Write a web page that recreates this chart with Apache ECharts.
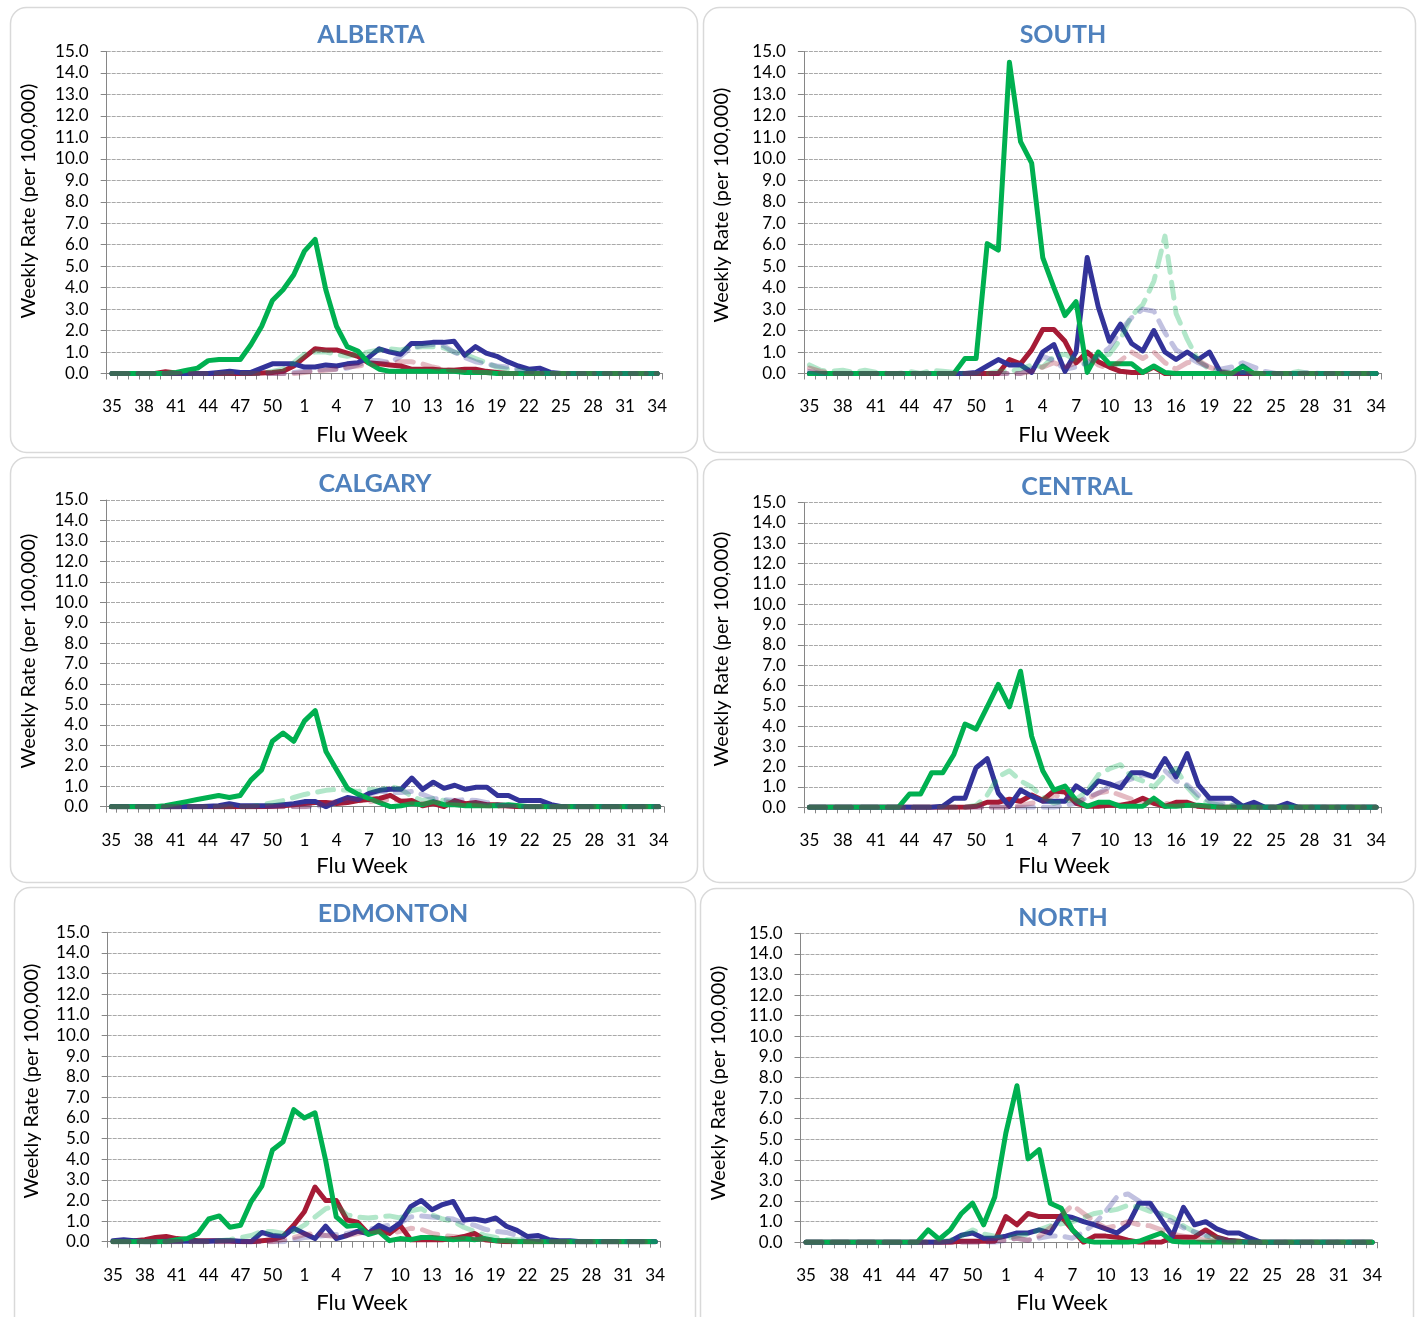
<!DOCTYPE html>
<html>
<head>
<meta charset="utf-8">
<title>Weekly influenza rates by zone</title>
<script src="https://cdn.jsdelivr.net/npm/echarts@6/dist/echarts.min.js"></script>
<style>
  html, body { margin: 0; padding: 0; background: #ffffff; }
  #chart { width: 1420px; height: 1317px; }
</style>
</head>
<body>
<div id="chart"></div>
<script>
// Flu weeks 35..52 then 1..34
const weeks = ['35','36','37','38','39','40','41','42','43','44','45','46','47','48','49','50','51','52',
  '1','2','3','4','5','6','7','8','9','10','11','12','13','14','15','16','17','18','19','20','21','22',
  '23','24','25','26','27','28','29','30','31','32','33','34'];

const yTicks = [0, 15, 1];   // min, max, step of the rate axis

// ---------- ALBERTA ----------
const albertaGreen = [0,0,0,0,0,0,0.05,0.15,0.25,0.6,0.65,0.65,0.65,1.35,2.2,3.4,3.9,4.6,
  5.7,6.25,3.9,2.2,1.25,1.05,0.5,0.2,0.1,0.1,0.1,0.1,0.1,0.1,0.1,0.05,0.05,0.05,0,0,0,0,0,0,0,0,0,0,0,0,0,0,0,0];
const albertaBlue = [0,0,0,0,0,0,0,0,0,0,0.05,0.1,0.05,0.05,0.25,0.45,0.45,0.45,
  0.3,0.3,0.4,0.35,0.45,0.5,0.75,1.15,1.0,0.9,1.4,1.4,1.45,1.45,1.5,0.85,1.25,0.95,0.8,0.55,0.35,0.2,0.25,0.05,0,0,0,0,0,0,0,0,0,0];
const albertaRed = [0,0,0,0,0,0.08,0.02,0,0,0,0,0,0,0,0.02,0.05,0.1,0.35,
  0.75,1.15,1.1,1.1,0.95,0.8,0.5,0.45,0.4,0.35,0.2,0.2,0.2,0.15,0.15,0.2,0.2,0.1,0.05,0,0,0,0,0,0,0,0,0,0,0,0,0,0,0];
const albertaGreenPrev = [0,0,0,0,0,0,0,0,0,0,0,0,0,0,0,0.1,0.2,0.5,
  0.9,1.0,1.0,0.9,0.8,0.9,1.0,1.1,1.15,1.1,1.2,1.25,1.25,1.2,1.0,0.9,0.7,0.5,0.3,0.2,0.15,0.1,0.05,0,0,0,0,0,0,0,0,0,0,0];
const albertaBluePrev = [0,0,0,0,0,0,0,0,0,0,0,0,0,0,0,0,0,0.05,
  0.1,0.15,0.2,0.2,0.25,0.4,0.6,0.6,0.5,0.8,1.2,1.3,1.35,1.3,1.0,0.75,0.55,0.45,0.35,0.3,0.2,0.1,0.05,0,0,0,0,0,0,0,0,0,0,0];
const albertaRedPrev = [0,0,0,0,0,0,0,0,0,0,0,0,0,0,0,0,0,0,
  0.05,0.1,0.15,0.2,0.3,0.35,0.4,0.45,0.5,0.55,0.55,0.45,0.3,0.2,0.15,0.15,0.1,0.05,0,0,0,0,0,0,0,0,0,0,0,0,0,0,0,0];

// ---------- SOUTH ----------
const southGreen = [0,0,0,0,0,0,0,0,0,0,0,0,0,0,0.7,0.7,6.05,5.75,
  14.5,10.8,9.8,5.4,4.0,2.7,3.35,0.05,1.0,0.45,0.45,0.45,0.05,0.35,0.05,0,0,0,0,0,0,0.35,0,0,0,0,0,0,0,0,0,0,0,0];
const southBlue = [0,0,0,0,0,0,0,0,0,0,0,0,0,0,0,0.05,0.35,0.65,
  0.4,0.4,0.05,1.0,1.35,0.1,1.0,5.4,3.1,1.5,2.3,1.4,1.05,2.0,1.0,0.65,1.0,0.65,1.0,0.05,0,0.05,0,0,0,0,0,0,0,0,0,0,0,0];
const southRed = [0,0,0,0,0,0,0,0,0,0,0,0,0,0,0,0,0,0,
  0.65,0.45,1.1,2.05,2.05,1.5,0.5,1.0,0.55,0.3,0.1,0.05,0.05,0.3,0,0,0,0,0,0,0,0,0,0,0,0,0,0,0,0,0,0,0,0];
const southGreenPrev = [0.4,0.15,0.1,0.15,0.05,0.15,0.05,0,0,0.1,0,0.15,0.1,0.05,0,0,0,0.1,
  0.1,0.2,0.4,0.3,0.8,0.9,0.6,0.4,0.8,0.9,1.6,2.7,3.2,4.3,6.4,2.8,1.6,0.6,0.2,0.1,0.05,0.1,0.05,0,0,0,0.1,0,0,0,0,0,0,0];
const southBluePrev = [0.1,0,0,0,0,0,0,0,0,0,0,0,0,0,0,0,0,0,
  0,0,0.2,0.8,0.6,0.2,0.3,0.5,0.8,1.2,2.0,2.6,3.0,2.9,1.9,1.1,0.8,0.5,0.3,0.2,0.3,0.5,0.3,0.1,0,0,0,0.05,0,0,0,0,0,0];
const southRedPrev = [0.25,0.1,0,0,0,0,0,0,0,0,0,0,0,0,0,0,0,0,
  0,0,0.1,0.3,0.5,0.3,0.5,0.8,0.4,0.2,0.6,1.0,0.7,1.0,0.5,0.2,0.5,0.6,0.3,0.1,0,0,0,0,0,0,0,0,0,0,0,0,0,0];

// ---------- CALGARY ----------
const calgaryGreen = [0,0,0,0,0,0.05,0.15,0.25,0.35,0.45,0.55,0.45,0.55,1.3,1.8,3.2,3.6,3.2,
  4.2,4.7,2.7,1.8,0.9,0.6,0.4,0.2,0,0.05,0.15,0.1,0.25,0.1,0.1,0.05,0.05,0.05,0.05,0.1,0.05,0,0,0,0,0,0,0,0,0,0,0,0,0];
const calgaryBlue = [0,0,0,0,0,0,0,0,0,0.02,0.05,0.15,0.05,0.05,0.05,0.05,0.1,0.15,
  0.25,0.25,0,0.25,0.45,0.35,0.65,0.8,0.85,0.85,1.4,0.85,1.2,0.9,1.05,0.85,0.95,0.95,0.55,0.55,0.3,0.3,0.3,0.1,0,0,0,0,0,0,0,0,0,0];
const calgaryRed = [0,0,0,0,0,0,0,0,0,0,0,0,0,0,0,0.02,0.05,0.1,
  0.15,0.2,0.2,0.15,0.2,0.3,0.35,0.4,0.55,0.25,0.3,0.05,0.15,0,0.3,0.15,0.2,0.1,0.1,0.05,0,0,0,0,0,0,0,0,0,0,0,0,0,0];
const calgaryGreenPrev = [0,0,0,0,0,0,0,0,0,0,0,0,0,0,0.1,0.2,0.3,0.45,
  0.6,0.7,0.8,0.85,0.8,0.75,0.85,0.8,1.0,0.85,0.5,0.3,0.4,0.3,0.2,0.1,0.15,0.05,0.1,0.05,0,0,0,0,0,0,0,0,0,0,0,0,0,0];
const calgaryBluePrev = [0,0,0,0,0,0,0,0,0,0,0,0,0,0,0,0,0,0,
  0,0,0.1,0.2,0.3,0.4,0.6,0.75,0.7,0.7,0.75,0.6,0.4,0.35,0.3,0.35,0.3,0.2,0.1,0.05,0,0,0,0,0,0,0,0,0,0,0,0,0,0];
const calgaryRedPrev = [0,0,0,0,0,0,0,0,0,0,0,0,0,0,0,0,0,0,
  0,0.1,0.15,0.25,0.35,0.3,0.25,0.3,0.35,0.3,0.2,0.15,0.2,0.25,0.15,0.1,0.1,0.05,0,0,0,0,0,0,0,0,0,0,0,0,0,0,0,0];

// ---------- CENTRAL ----------
const centralGreen = [0,0,0,0,0,0,0,0,0,0.65,0.65,1.7,1.7,2.6,4.1,3.85,4.95,6.05,
  4.95,6.7,3.5,1.8,0.85,1.05,0.35,0.05,0.25,0.25,0.05,0.05,0.05,0.45,0.05,0.05,0.1,0.1,0.05,0,0,0,0,0,0,0,0,0,0,0,0,0,0,0];
const centralBlue = [0,0,0,0,0,0,0,0,0,0,0,0,0.05,0.45,0.45,1.95,2.4,0.7,
  0.05,0.85,0.55,0.3,0.3,0.3,1.05,0.7,1.3,1.15,0.95,1.7,1.7,1.5,2.4,1.5,2.65,1.1,0.45,0.45,0.45,0.05,0.25,0,0,0.2,0,0,0,0,0,0,0,0];
const centralRed = [0,0,0,0,0,0,0,0,0,0,0,0,0,0,0,0.05,0.25,0.25,
  0.4,0.3,0.6,0.35,0.8,0.75,0.2,0.05,0.05,0.1,0.1,0.2,0.45,0.2,0.05,0.25,0.25,0.05,0,0,0,0,0,0,0,0,0,0,0,0,0,0,0,0];
const centralGreenPrev = [0,0,0,0,0,0,0,0,0,0,0,0,0,0,0,0.1,0.6,1.5,
  1.8,1.3,1.0,0.5,0.2,0.3,0.4,0.8,1.6,1.9,2.1,1.5,1.3,1.0,1.6,1.9,1.0,0.4,0.2,0.1,0.1,0.05,0,0,0,0,0,0,0,0,0,0,0,0];
const centralBluePrev = [0,0,0,0,0,0,0,0,0,0,0,0,0,0,0,0,0,0,
  0,0,0,0,0,0.1,0.2,0.5,0.7,1.0,1.2,1.4,1.6,1.5,1.8,1.3,1.1,0.6,0.3,0.2,0.1,0.05,0,0,0,0,0,0,0,0,0,0,0,0];
const centralRedPrev = [0,0,0,0,0,0,0,0,0,0,0,0,0,0,0,0,0,0,
  0,0.1,0.2,0.3,0.6,0.5,0.3,0.4,0.7,0.8,0.6,0.4,0.3,0.2,0.2,0.1,0.1,0.05,0,0,0,0,0,0,0,0,0,0,0,0,0,0,0,0];

// ---------- EDMONTON ----------
const edmontonGreen = [0,0,0,0,0,0,0.1,0.15,0.4,1.1,1.25,0.7,0.8,1.95,2.7,4.45,4.85,6.4,
  6.0,6.25,3.95,1.2,0.75,0.8,0.35,0.5,0.05,0.15,0.1,0.2,0.2,0.15,0.1,0.15,0.1,0.15,0.05,0.05,0,0,0,0,0,0,0,0,0,0,0,0,0,0];
const edmontonBlue = [0.05,0.1,0.05,0,0,0.02,0.02,0.02,0.02,0.02,0.05,0.05,0.02,0,0.45,0.3,0.25,0.65,
  0.4,0.15,0.75,0.15,0.3,0.5,0.4,0.8,0.55,0.9,1.7,2.0,1.55,1.8,1.95,1.05,1.1,1.0,1.15,0.75,0.55,0.25,0.3,0.1,0.05,0.05,0,0,0,0,0,0,0,0];
const edmontonRed = [0,0.02,0.05,0.1,0.2,0.25,0.15,0.1,0.05,0.05,0.05,0.05,0,0,0.05,0.1,0.25,0.8,
  1.45,2.65,2.0,2.0,1.05,0.95,0.4,0.55,0.4,0.8,0.1,0.1,0.1,0.1,0.15,0.25,0.4,0.1,0.05,0,0,0,0,0,0,0,0,0,0,0,0,0,0,0];
const edmontonGreenPrev = [0,0,0,0,0,0,0,0,0,0,0.05,0.1,0.2,0.3,0.5,0.5,0.4,0.5,
  0.8,1.2,1.6,1.75,1.3,1.2,1.15,1.2,1.25,1.15,1.5,1.6,1.3,1.1,1.0,0.7,0.5,0.3,0.2,0.1,0.1,0.05,0,0,0,0,0,0,0,0,0,0,0,0];
const edmontonBluePrev = [0,0,0,0,0,0,0,0,0,0,0,0,0,0,0,0,0,0.1,
  0.2,0.25,0.3,0.35,0.4,0.5,0.6,0.7,0.8,0.9,1.2,1.25,1.2,1.15,1.1,0.9,0.8,0.6,0.5,0.45,0.3,0.2,0.1,0.05,0,0,0,0,0,0,0,0,0,0];
const edmontonRedPrev = [0,0,0,0,0,0,0,0,0,0,0,0,0,0,0,0,0.1,0.2,
  0.35,0.4,0.3,0.25,0.3,0.4,0.5,0.5,0.4,0.5,0.65,0.6,0.4,0.3,0.25,0.2,0.15,0.1,0.05,0,0,0,0,0,0,0,0,0,0,0,0,0,0,0];

// ---------- NORTH ----------
const northGreen = [0,0,0,0,0,0,0,0,0,0,0,0.6,0.15,0.6,1.4,1.9,0.85,2.2,
  5.3,7.6,4.05,4.5,1.9,1.65,0.6,0.1,0,0,0,0,0.05,0.25,0.45,0.05,0,0,0,0,0,0,0,0,0,0,0,0,0,0,0,0,0,0];
const northBlue = [0,0,0,0,0,0,0,0,0,0,0,0,0,0.05,0.35,0.45,0.2,0.2,
  0.3,0.45,0.45,0.6,0.45,1.3,1.2,1.0,0.85,0.65,0.45,0.85,1.9,1.9,1.1,0.3,1.7,0.85,1.0,0.65,0.45,0.45,0.2,0,0,0,0,0,0,0,0,0,0,0];
const northRed = [0,0,0,0,0,0,0,0,0,0,0,0,0,0,0.05,0.05,0.05,0.05,
  1.25,0.85,1.4,1.25,1.25,1.25,0.6,0,0.3,0.3,0.25,0.1,0,0,0,0.25,0.25,0.25,0.6,0.25,0.1,0.05,0,0,0,0,0,0,0,0,0,0,0,0];
const northGreenPrev = [0,0,0,0,0,0,0,0,0,0,0,0,0,0.1,0.3,0.6,0.4,0.3,
  0.2,0.3,0.4,0.6,0.8,0.9,1.0,1.2,1.4,1.5,1.6,1.8,1.7,1.5,1.4,1.2,0.8,0.5,0.3,0.2,0.1,0.05,0,0,0,0,0,0,0,0,0,0,0,0];
const northBluePrev = [0,0,0,0,0,0,0,0,0,0,0,0,0,0,0,0,0,0,
  0.1,0.2,0.1,0.2,0.3,0.3,0.2,0.5,0.9,1.5,2.2,2.35,2.0,1.7,1.3,1.0,0.7,0.5,0.35,0.2,0.1,0.05,0,0,0,0,0,0,0,0,0,0,0,0];
const northRedPrev = [0,0,0,0,0,0,0,0,0,0,0,0,0,0,0,0,0,0.1,
  0.1,0.2,0.1,0.3,0.7,1.3,1.8,1.4,1.0,0.7,0.8,1.0,0.85,0.8,0.6,0.4,0.3,0.2,0.1,0.05,0,0,0,0,0,0,0,0,0,0,0,0,0,0];

// ---------- styling / layout ----------
const FONT = 'Lato, "Open Sans", sans-serif';
const C_GREEN = '#00b050', C_BLUE = '#333399', C_RED = '#a61b36';
const C_GREEN_L = 'rgba(0,176,80,0.30)', C_BLUE_L = 'rgba(51,51,153,0.30)', C_RED_L = 'rgba(166,27,54,0.30)';
const AXIS_GREY = '#868686';

// box: [x, y, w, h]; plot: [left, top, width, height]
const panels = [
  { name: 'ALBERTA',  box: [10, 7, 687, 445],    plot: [106.7, 51.5, 555.8, 322],  title: [371, 35],   yName: [29, 201],   xName: [362, 435],
    lines: [albertaRed, albertaBlue, albertaGreen, albertaGreenPrev, albertaBluePrev, albertaRedPrev] },
  { name: 'SOUTH',    box: [703, 7, 712, 445],   plot: [803.9, 51.5, 577.7, 322], title: [1063, 35],  yName: [722, 205],  xName: [1064, 435],
    lines: [southRed, southBlue, southGreen, southGreenPrev, southBluePrev, southRedPrev] },
  { name: 'CALGARY',  box: [10, 457, 687, 425],  plot: [106, 500, 558, 306.7],     title: [375, 484],  yName: [29, 651],   xName: [362, 866],
    lines: [calgaryRed, calgaryBlue, calgaryGreen, calgaryGreenPrev, calgaryBluePrev, calgaryRedPrev] },
  { name: 'CENTRAL',  box: [703, 459, 712, 423], plot: [803.9, 502.7, 577.7, 304.6], title: [1077, 487], yName: [722, 649], xName: [1064, 866],
    lines: [centralRed, centralBlue, centralGreen, centralGreenPrev, centralBluePrev, centralRedPrev] },
  { name: 'EDMONTON', box: [14, 887, 681, 450],  plot: [107.7, 932.3, 552.8, 309.4], title: [393, 914], yName: [32, 1081],  xName: [362, 1303],
    lines: [edmontonRed, edmontonBlue, edmontonGreen, edmontonGreenPrev, edmontonBluePrev, edmontonRedPrev] },
  { name: 'NORTH',    box: [700, 888, 713, 450], plot: [800.5, 933.3, 577.2, 309], title: [1063, 918], yName: [719, 1083],  xName: [1062, 1303],
    lines: [northRed, northBlue, northGreen, northGreenPrev, northBluePrev, northRedPrev] }
];

const lineLooks = [
  { color: C_RED,     dashed: false },
  { color: C_BLUE,    dashed: false },
  { color: C_GREEN,   dashed: false },
  { color: C_GREEN_L, dashed: true },
  { color: C_BLUE_L,  dashed: true },
  { color: C_RED_L,   dashed: true }
];
const lineNames = ['Red', 'Blue', 'Green', 'Green (dashed)', 'Blue (dashed)', 'Red (dashed)'];

const grids = [], xAxes = [], yAxes = [], series = [], graphics = [];

panels.forEach((p, k) => {
  graphics.push({
    type: 'rect', z: -10, silent: true,
    shape: { x: p.box[0] + 0.5, y: p.box[1] + 0.5, width: p.box[2], height: p.box[3], r: 16 },
    style: { fill: '#ffffff', stroke: '#d9d9d9', lineWidth: 1.5 }
  });
  graphics.push({
    type: 'text', x: p.title[0], y: p.title[1], silent: true,
    style: { text: p.name, fill: '#4f81bd', fontFamily: FONT, fontWeight: 'bold', fontSize: 25, align: 'center', verticalAlign: 'middle' }
  });
  graphics.push({
    type: 'text', x: p.yName[0], y: p.yName[1], rotation: Math.PI / 2, silent: true,
    style: { text: 'Weekly Rate (per 100,000)', fill: '#000000', fontFamily: FONT, fontSize: 20, align: 'center', verticalAlign: 'middle' }
  });
  graphics.push({
    type: 'text', x: p.xName[0], y: p.xName[1], silent: true,
    style: { text: 'Flu Week', fill: '#000000', fontFamily: FONT, fontSize: 22, align: 'center', verticalAlign: 'middle' }
  });

  grids.push({ left: p.plot[0], top: p.plot[1], width: p.plot[2], height: p.plot[3], containLabel: false, outerBoundsMode: 'none' });

  xAxes.push({
    type: 'category', gridIndex: k, data: weeks, boundaryGap: true,
    axisLine: { show: true, onZero: false, lineStyle: { color: AXIS_GREY, width: 1 } },
    axisTick: { show: true, interval: 0, length: 6, lineStyle: { color: AXIS_GREY } },
    axisLabel: { interval: 2, margin: 25, color: '#000000', fontFamily: FONT, fontSize: 17 },
    splitLine: { show: false }
  });
  yAxes.push({
    type: 'value', gridIndex: k, min: yTicks[0], max: yTicks[1], interval: yTicks[2],
    axisLine: { show: true, lineStyle: { color: AXIS_GREY, width: 1 } },
    axisTick: { show: true, length: 6, lineStyle: { color: AXIS_GREY } },
    axisLabel: { margin: 18, color: '#000000', fontFamily: FONT, fontSize: 17, formatter: v => v.toFixed(1) },
    splitLine: { show: true, lineStyle: { color: '#a9a9a9', width: 1, type: [4, 1] } }
  });

  p.lines.forEach((vals, j) => {
    const look = lineLooks[j];
    series.push({
      name: p.name + ' ' + lineNames[j],
      type: 'line', xAxisIndex: k, yAxisIndex: k, data: vals,
      symbol: 'none', showSymbol: false, smooth: false,
      z: look.dashed ? 4 : 3,
      lineStyle: {
        color: look.color, width: 5, cap: 'round', join: 'round',
        type: look.dashed ? [16, 10] : 'solid'
      },
      emphasis: { disabled: true }
    });
  });
});

const chart = echarts.init(document.getElementById('chart'), null, { renderer: 'canvas' });
chart.setOption({
  animation: false,
  backgroundColor: '#ffffff',
  grid: grids,
  xAxis: xAxes,
  yAxis: yAxes,
  series: series,
  graphic: graphics
});
</script>
</body>
</html>
